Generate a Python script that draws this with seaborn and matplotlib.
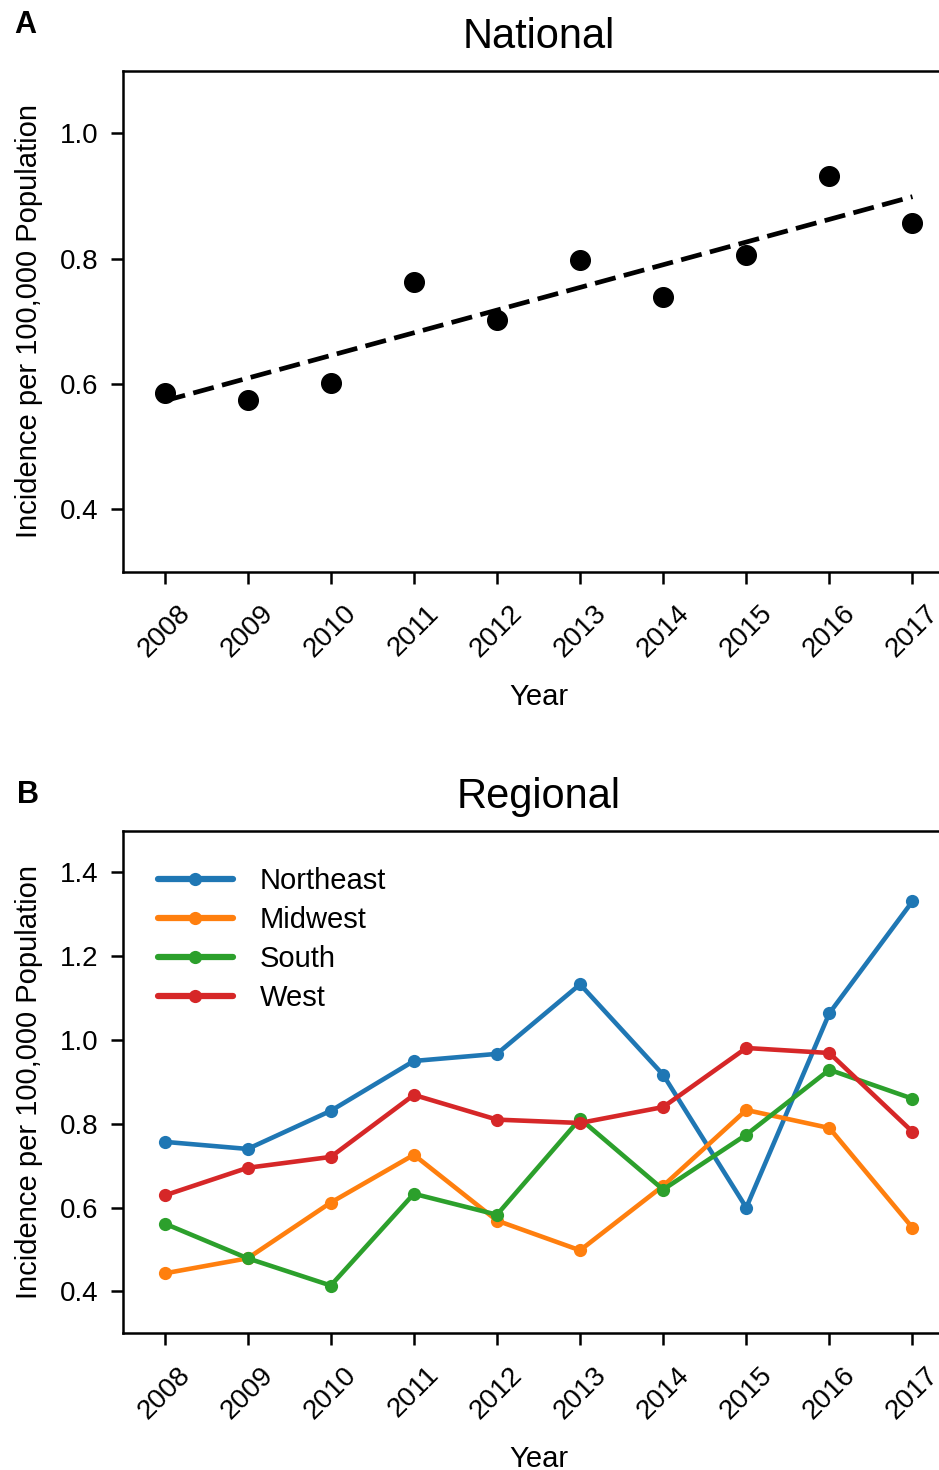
import numpy as np
import pandas as pd
import matplotlib
matplotlib.use('Agg')
import matplotlib.pyplot as plt
import seaborn as sns

years = [2008, 2009, 2010, 2011, 2012, 2013, 2014, 2015, 2016, 2017]
national = [0.586, 0.575, 0.602, 0.763, 0.702, 0.798, 0.738, 0.805, 0.932, 0.857]

regions = ['Northeast', 'Midwest', 'South', 'West']
northeast = [0.757, 0.740, 0.831, 0.950, 0.967, 1.133, 0.917, 0.600, 1.064, 1.331]
midwest = [0.443, 0.479, 0.612, 0.726, 0.569, 0.498, 0.652, 0.833, 0.790, 0.552]
south = [0.562, 0.479, 0.414, 0.633, 0.583, 0.812, 0.643, 0.774, 0.929, 0.860]
west = [0.629, 0.695, 0.721, 0.869, 0.810, 0.802, 0.840, 0.981, 0.969, 0.781]

sns.set_style('ticks')
plt.rcParams['font.family'] = ['Liberation Sans', 'DejaVu Sans']
for key in ['text.color', 'axes.labelcolor', 'xtick.color', 'ytick.color', 'axes.edgecolor']:
    plt.rcParams[key] = 'black'
plt.rcParams['axes.linewidth'] = 1.8
plt.rcParams['xtick.major.width'] = 1.8
plt.rcParams['ytick.major.width'] = 1.8
plt.rcParams['xtick.major.size'] = 8.5
plt.rcParams['ytick.major.size'] = 8.5
plt.rcParams['xtick.major.pad'] = 12
plt.rcParams['ytick.major.pad'] = 9
plt.rcParams['xtick.labelsize'] = 20
plt.rcParams['ytick.labelsize'] = 20

fig = plt.figure(figsize=(9.39, 14.7), dpi=100)
ax1 = fig.add_axes([0.131, 0.611, 0.885, 0.341])
ax2 = fig.add_axes([0.131, 0.093, 0.885, 0.342])

# A: national trend with linear fit
sns.regplot(x=years, y=national, ax=ax1, ci=None, color='black',
            scatter_kws={'s': 200, 'alpha': 1, 'zorder': 3},
            line_kws={'ls': (0, (4.5, 1.8)), 'lw': 3.4})
ax1.set_xlim(2007.5, 2017.5)
ax1.set_ylim(0.3, 1.1)
ax1.set_yticks([0.4, 0.6, 0.8, 1.0])
ax1.set_title('National', fontsize=30, pad=16)

# B: regional lines
reg_df = pd.DataFrame({'Year': years * 4,
                       'Incidence': northeast + midwest + south + west,
                       'Region': [r for r in regions for _ in years]})
sns.lineplot(data=reg_df, x='Year', y='Incidence', hue='Region', ax=ax2,
             palette='tab10', marker='o', markersize=9.5, markeredgewidth=0,
             lw=3.3)
ax2.set_xlim(2007.5, 2017.5)
ax2.set_ylim(0.3, 1.5)
ax2.set_yticks([0.4, 0.6, 0.8, 1.0, 1.2, 1.4])
ax2.set_title('Regional', fontsize=30, pad=16)
leg = ax2.legend(loc='upper left', frameon=False, fontsize=21, title=None,
                 handlelength=2.6, handletextpad=0.9, labelspacing=0.38,
                 bbox_to_anchor=(0.01, 0.98))
for h in leg.get_lines():
    h.set_linewidth(4.5)

for ax in (ax1, ax2):
    ax.set_xticks(years)
    ax.set_xticklabels([str(y) for y in years], rotation=45)
    ax.set_xlabel('Year', fontsize=21, labelpad=15)
    ax.set_ylabel('Incidence per 100,000 Population', fontsize=21, labelpad=12)
    ax.spines['right'].set_visible(False)

fig.text(0.015, 0.983, 'A', fontsize=22, fontweight='bold', va='center')
fig.text(0.018, 0.459, 'B', fontsize=22, fontweight='bold', va='center')

fig.savefig('out.png', dpi=100)
